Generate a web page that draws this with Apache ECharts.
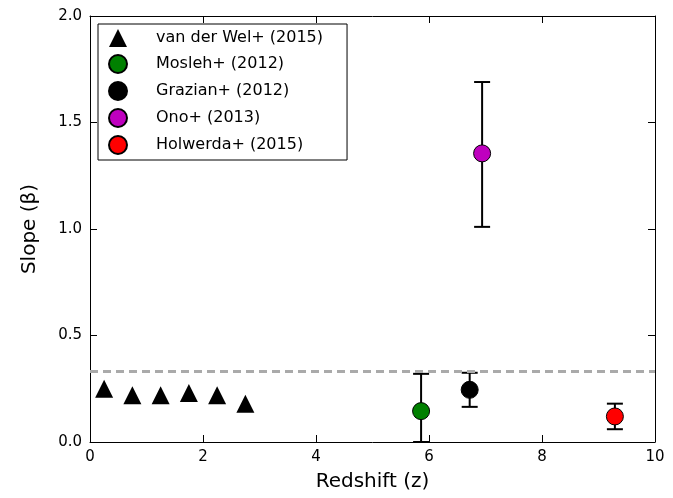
<!DOCTYPE html>
<html>
<head>
<meta charset="UTF-8">
<script src="https://cdn.jsdelivr.net/npm/echarts@6/dist/echarts.min.js"></script>
<style>html,body{margin:0;padding:0;background:#fff}#c{width:673px;height:498px}</style>
</head>
<body>
<div id="c"></div>
<script>
var welX = [0.25, 0.75, 1.25, 1.75, 2.25, 2.75];
var welY = [0.25, 0.22, 0.22, 0.23, 0.22, 0.18];
// [x, y, low, high]
var mosleh = [[5.86, 0.145, 0.0, 0.32]];
var grazian = [[6.72, 0.245, 0.165, 0.325]];
var ono = [[6.94, 1.355, 1.01, 1.69]];
var holwerda = [[9.29, 0.12, 0.06, 0.18]];
var refLine = 0.333;

var chart = echarts.init(document.getElementById('c'));
var font = 'DejaVu Sans';
function errBar(data){
	return {
		type: 'custom', silent: true, z: 2,
		data: data,
		renderItem: function(p, api){
			var x = api.value(0), lo = api.value(2), hi = api.value(3);
			var a = api.coord([x, lo]), b = api.coord([x, hi]);
			var st = {stroke: '#000', lineWidth: 2};
			return {type: 'group', children: [
				{type: 'line', shape: {x1: a[0], y1: a[1], x2: b[0], y2: b[1]}, style: st},
				{type: 'line', shape: {x1: a[0]-8, y1: a[1], x2: a[0]+8, y2: a[1]}, style: st},
				{type: 'line', shape: {x1: b[0]-8, y1: b[1], x2: b[0]+8, y2: b[1]}, style: st}
			]};
		}
	};
}
function pts(name, data, color){
	return {name: name, type: 'scatter', z: 5, symbolSize: 17,
		data: data.map(function(d){return [d[0], d[1]];}),
		itemStyle: {color: color, opacity: 1, borderColor: '#000', borderWidth: 1}};
}
var axBase = {
	axisLine: {show: true, onZero: false, lineStyle: {color: '#000', width: 1}},
	axisTick: {inside: true, length: 7, lineStyle: {color: '#000'}},
	splitLine: {show: false}
};
chart.setOption({
	animation: false,
	grid: {left: 90, right: 18, top: 16, bottom: 56},
	xAxis: [
		Object.assign({type: 'value', min: 0, max: 10, interval: 2, name: 'Redshift (z)', nameLocation: 'middle', nameGap: 30,
			nameTextStyle: {fontSize: 20, fontFamily: font, color: '#000'},
			axisLabel: {fontSize: 15, fontFamily: font, color: '#000', margin: 8}}, axBase),
		Object.assign({type: 'value', position: 'top', min: 0, max: 10, interval: 2, axisLabel: {show: false}}, axBase)
	],
	yAxis: [
		Object.assign({type: 'value', min: 0, max: 2, interval: 0.5, name: 'Slope (β)', nameLocation: 'middle', nameGap: 50,
			nameTextStyle: {fontSize: 20, fontFamily: font, color: '#000'},
			axisLabel: {fontSize: 15, fontFamily: font, color: '#000', formatter: function(v){return v.toFixed(1);}}}, axBase),
		Object.assign({type: 'value', position: 'right', min: 0, max: 2, interval: 0.5, axisLabel: {show: false}}, axBase)
	],
	legend: {
		left: 98, top: 24, orient: 'vertical', itemGap: 7, itemWidth: 18, itemHeight: 18,
		padding: [5, 24, 5, 10],
		borderColor: '#000', borderWidth: 1, backgroundColor: '#fff',
		textStyle: {fontSize: 16, fontFamily: font, color: '#000', padding: [0, 0, 0, 24]},
		data: ['van der Wel+ (2015)', 'Mosleh+ (2012)', 'Grazian+ (2012)', 'Ono+ (2013)', 'Holwerda+ (2015)']
	},
	series: [
		{name: 'van der Wel+ (2015)', type: 'scatter', symbol: 'triangle', symbolSize: 18, z: 5,
			data: welX.map(function(x, i){return [x, welY[i]];}),
			itemStyle: {color: '#000', opacity: 1},
			markLine: {silent: true, symbol: 'none', label: {show: false},
				lineStyle: {color: '#aaa', type: [8, 5], width: 3}, data: [{yAxis: refLine}]}},
		errBar(mosleh), errBar(grazian), errBar(ono), errBar(holwerda),
		pts('Mosleh+ (2012)', mosleh, '#008000'),
		pts('Grazian+ (2012)', grazian, '#000000'),
		pts('Ono+ (2013)', ono, '#bf00bf'),
		pts('Holwerda+ (2015)', holwerda, '#ff0000')
	]
});
</script>
</body>
</html>
